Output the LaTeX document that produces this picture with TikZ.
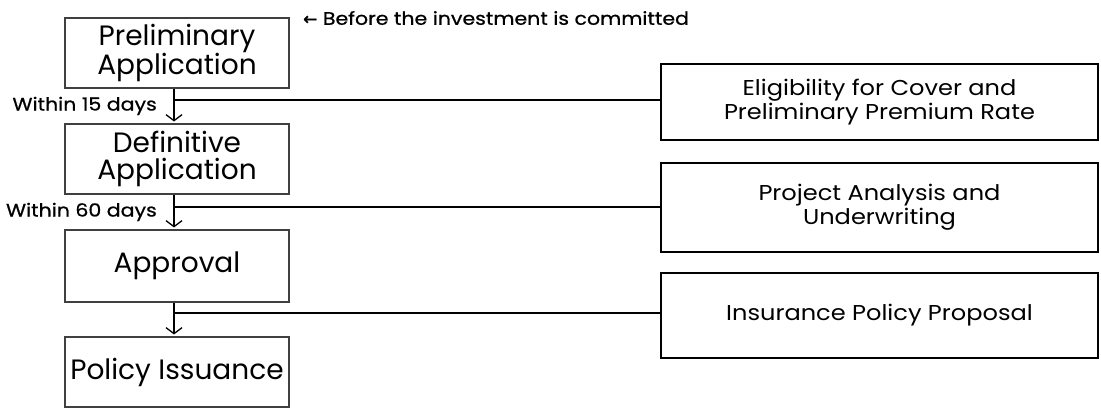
\documentclass[tikz,border=0pt]{standalone}
\usepackage{fontspec}
\setmainfont{Poppins}
\newfontfamily\wfont[FakeStretch=1.12]{Poppins}
\newfontfamily\wbfont[FakeStretch=1.14,FakeBold=0.8]{Poppins}
\newfontfamily\symfont[FakeBold=1.5]{DejaVu Sans}
\usetikzlibrary{arrows.meta}
\begin{document}
\begin{tikzpicture}[x=1pt,y=-1pt,
  leftbox/.style={draw=black!75,line width=1.1pt,minimum width=224pt,inner sep=0pt,align=center,font=\fontsize{28}{27}\selectfont},
  rightbox/.style={draw=black,line width=1.6pt,minimum width=437pt,inner sep=0pt,align=center,font=\wfont\fontsize{21.5}{24}\selectfont},
  conn/.style={line width=1.8pt},
  flow/.style={line width=1.3pt,-{Straight Barb[length=6pt,width=16pt]},shorten >=2pt},
  lbl/.style={font=\wbfont\fontsize{18}{18}\selectfont,inner sep=0pt}]
\useasboundingbox (0,0) rectangle (1101,409);
\node[leftbox,minimum height=70pt] (pa) at (177,53) {Preliminary\\Application};
\node[leftbox,minimum height=70pt] (da) at (177,159) {Definitive\\Application};
\node[leftbox,minimum height=72pt] (ap) at (177,266) {Approval};
\node[leftbox,minimum height=70pt] (pi) at (177,372) {Policy Issuance};
\node[rightbox,minimum height=76pt] (el) at (879.5,102) {Eligibility for Cover and\\Preliminary Premium Rate};
\node[rightbox,minimum height=89pt] (pr) at (879.5,207.5) {Project Analysis and\\Underwriting};
\node[rightbox,minimum height=85pt] (ip) at (879.5,315.5) {Insurance Policy Proposal};
\draw[flow] (pa.south -| 174,0) -- (da.north -| 174,0);
\draw[flow] (da.south -| 174,0) -- (ap.north -| 174,0);
\draw[flow] (ap.south -| 174,0) -- (pi.north -| 174,0);
\coordinate (j1) at (174,100);
\coordinate (j2) at (174,207);
\coordinate (j3) at (174,313);
\draw[conn] (j1) -- (el.west |- j1);
\draw[conn] (j2) -- (pr.west |- j2);
\draw[conn] (j3) -- (ip.west |- j3);
\node[lbl,anchor=east] (w15) at (157,106) {Within 15 days};
\node[lbl,anchor=east] (w60) at (157,212) {Within 60 days};
\node[lbl,anchor=west] (bf) at (303,18) {{\symfont\fontsize{17}{17}\selectfont ←} Before the investment is committed};
\end{tikzpicture}
\end{document}
